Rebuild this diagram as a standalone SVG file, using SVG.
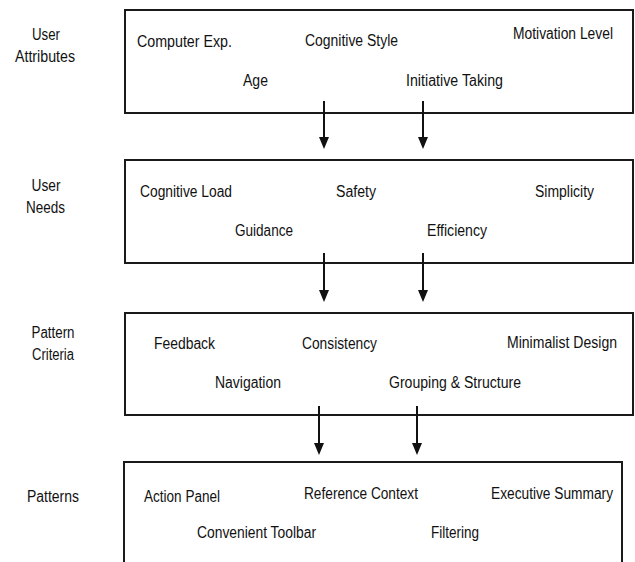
<svg xmlns="http://www.w3.org/2000/svg" width="635" height="562" viewBox="0 0 635 562">
<style>
  .box { fill: #fff; stroke: #1a1a1a; stroke-width: 2; }
  .t { font-family: "Liberation Sans", Arial, sans-serif; font-size: 16px; fill: #111; }
  .lbl { font-family: "Liberation Sans", Arial, sans-serif; font-size: 16px; fill: #111; text-anchor: middle; }
  .conn { stroke: #111; stroke-width: 2; fill: none; marker-end: url(#ah); }
</style>
<defs>
  <marker id="ah" markerUnits="userSpaceOnUse" markerWidth="12" markerHeight="10" viewBox="0 0 12 10" refX="10" refY="5" orient="auto">
    <path d="M0,0 L12,5 L0,10 z" fill="#111"/>
  </marker>
</defs>
<rect width="635" height="562" fill="#fff"/>

<g id="label-user-attributes">
  <text class="lbl" x="46" y="40" textLength="28" lengthAdjust="spacingAndGlyphs">User</text>
  <text class="lbl" x="45" y="62" textLength="60" lengthAdjust="spacingAndGlyphs">Attributes</text>
</g>
<g id="label-user-needs">
  <text class="lbl" x="46" y="191" textLength="29" lengthAdjust="spacingAndGlyphs">User</text>
  <text class="lbl" x="45.5" y="213" textLength="39" lengthAdjust="spacingAndGlyphs">Needs</text>
</g>
<g id="label-pattern-criteria">
  <text class="lbl" x="53" y="338" textLength="43" lengthAdjust="spacingAndGlyphs">Pattern</text>
  <text class="lbl" x="53" y="360" textLength="42" lengthAdjust="spacingAndGlyphs">Criteria</text>
</g>
<g id="label-patterns">
  <text class="lbl" x="53" y="502" textLength="52" lengthAdjust="spacingAndGlyphs">Patterns</text>
</g>

<g id="user-attributes">
  <rect class="box" x="125" y="10" width="508" height="103"/>
  <text class="t" x="137" y="47" textLength="95" lengthAdjust="spacingAndGlyphs">Computer Exp.</text>
  <text class="t" x="305" y="46" textLength="93" lengthAdjust="spacingAndGlyphs">Cognitive Style</text>
  <text class="t" x="513" y="39" textLength="100" lengthAdjust="spacingAndGlyphs">Motivation Level</text>
  <text class="t" x="243" y="86" textLength="25" lengthAdjust="spacingAndGlyphs">Age</text>
  <text class="t" x="406" y="86" textLength="97" lengthAdjust="spacingAndGlyphs">Initiative Taking</text>
</g>

<g id="user-needs">
  <rect class="box" x="125" y="160" width="508" height="103"/>
  <text class="t" x="140" y="197" textLength="92" lengthAdjust="spacingAndGlyphs">Cognitive Load</text>
  <text class="t" x="336" y="197" textLength="40" lengthAdjust="spacingAndGlyphs">Safety</text>
  <text class="t" x="535" y="197" textLength="59" lengthAdjust="spacingAndGlyphs">Simplicity</text>
  <text class="t" x="235" y="236" textLength="58" lengthAdjust="spacingAndGlyphs">Guidance</text>
  <text class="t" x="427" y="236" textLength="60" lengthAdjust="spacingAndGlyphs">Efficiency</text>
</g>

<g id="pattern-criteria">
  <rect class="box" x="125" y="313" width="508" height="102"/>
  <text class="t" x="154" y="349" textLength="61" lengthAdjust="spacingAndGlyphs">Feedback</text>
  <text class="t" x="302" y="349" textLength="75" lengthAdjust="spacingAndGlyphs">Consistency</text>
  <text class="t" x="507" y="348" textLength="110" lengthAdjust="spacingAndGlyphs">Minimalist Design</text>
  <text class="t" x="215" y="388" textLength="66" lengthAdjust="spacingAndGlyphs">Navigation</text>
  <text class="t" x="389" y="388" textLength="132" lengthAdjust="spacingAndGlyphs">Grouping &amp; Structure</text>
</g>

<g id="patterns">
  <rect class="box" x="124" y="462" width="498" height="110"/>
  <text class="t" x="144" y="502" textLength="76" lengthAdjust="spacingAndGlyphs">Action Panel</text>
  <text class="t" x="304" y="499" textLength="114" lengthAdjust="spacingAndGlyphs">Reference Context</text>
  <text class="t" x="491" y="499" textLength="122" lengthAdjust="spacingAndGlyphs">Executive Summary</text>
  <text class="t" x="197" y="538" textLength="119" lengthAdjust="spacingAndGlyphs">Convenient Toolbar</text>
  <text class="t" x="431" y="538" textLength="48" lengthAdjust="spacingAndGlyphs">Filtering</text>
</g>

<g id="connectors">
  <line class="conn" x1="324" y1="101" x2="324" y2="147"/>
  <line class="conn" x1="423" y1="101" x2="423" y2="147"/>
  <line class="conn" x1="324" y1="253" x2="324" y2="300"/>
  <line class="conn" x1="423" y1="253" x2="423" y2="300"/>
  <line class="conn" x1="319" y1="406" x2="319" y2="453"/>
  <line class="conn" x1="417" y1="406" x2="417" y2="453"/>
</g>
</svg>
